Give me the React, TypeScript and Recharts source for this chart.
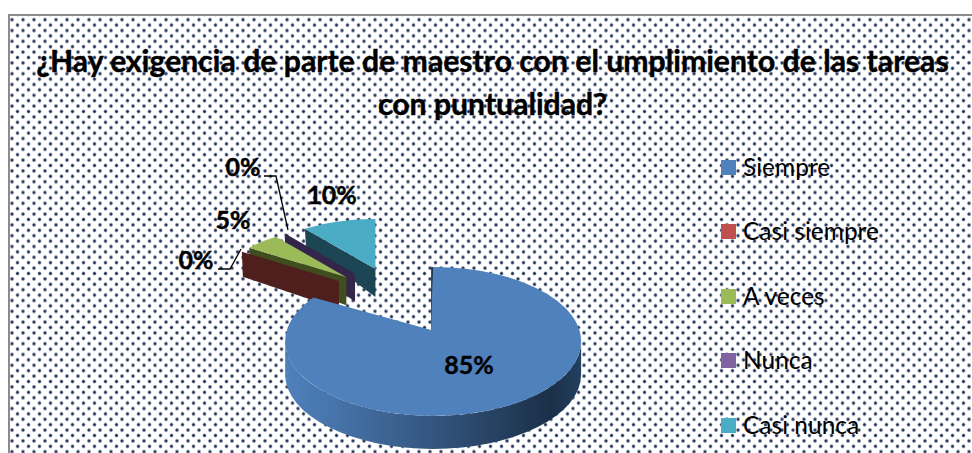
import { PieChart, Pie, Legend } from 'recharts'

const title = ['¿Hay exigencia de parte de maestro con el umplimiento de las tareas', 'con puntualidad?']
const categories = ['Siempre', 'Casi siempre', 'A veces', 'Nunca', 'Casi nunca']
const percents = [85, 0, 5, 0, 10]
const colors = ['#4f81bd', '#c0504d', '#9bbb59', '#8064a2', '#4bacc6']
const wallColors = ['#2c4a6e', '#4f1f1d', '#3f4d1f', '#33264a', '#1c4653']

// drawn back to front, so the big slice lands on top; legend keeps the original order
const rows = categories
  .map((name, i) => ({ name, value: percents[i], fill: colors[i], wall: wallColors[i] }))
  .reverse()

const labelSpots: Record<string, { x: number; y: number; leader?: string }> = {
  Siempre: { x: 469, y: 368 },
  'Casi siempre': { x: 196, y: 263, leader: '218,269 230,269 241,249' },
  'A veces': { x: 233, y: 223 },
  Nunca: { x: 243, y: 170, leader: '264,176 276,176 288,230' },
  'Casi nunca': { x: 332, y: 198 },
}

const rad = (deg: number) => (deg * Math.PI) / 180

function Slice3D(props: any) {
  const { cx, cy, startAngle: s, endAngle: e, outerRadius: r, fill, payload } = props
  const mid = rad((s + e) / 2)
  const ax = cx + 73 * Math.cos(mid)
  const ay = cy - 33 * Math.sin(mid)
  const big = e - s > 180
  const rx = big ? r * 1.233 : r
  const ry = big ? rx / 2 + 0.5 : r * 0.417
  const hx = big ? ax + 2 : ax
  const hy = big ? ay + 11.5 : ay
  const pt = (deg: number) => ({ x: hx + rx * Math.cos(rad(deg)), y: hy - ry * Math.sin(rad(deg)) })
  const p0 = pt(s)
  const p1 = pt(e)
  const face = `M${ax},${ay} L${p0.x},${p0.y} A${rx},${ry} 0 ${big ? 1 : 0} 0 ${p1.x},${p1.y} Z`

  if (big) {
    const d = 33
    const rim = `M${hx - rx},${hy} A${rx},${ry} 0 0 0 ${hx + rx},${hy} L${hx + rx},${hy + d} A${rx},${ry} 0 0 1 ${hx - rx},${hy + d} Z`
    return (
      <g>
        <defs>
          <linearGradient id="rimShade" x1="0" y1="0" x2="1" y2="0">
            <stop offset="0%" stopColor="#4f81bd" />
            <stop offset="30%" stopColor="#3f6899" />
            <stop offset="62%" stopColor="#2c4a6e" />
            <stop offset="90%" stopColor="#1b2f48" />
            <stop offset="100%" stopColor="#22405f" />
          </linearGradient>
        </defs>
        <path d={rim} fill="url(#rimShade)" />
        <path d={`M${p1.x - 2},${p1.y} L${ax},${ay} L${ax + 1},${ay + 3} L${p1.x},${p1.y} Z`} fill="#1d3350" />
        <path d={face} fill={fill} />
      </g>
    )
  }

  const depthAt = (y: number) => Math.min(28, (y - 180) * 0.35)
  const wall = `M${p1.x},${p1.y} L${ax},${ay} L${ax},${ay + depthAt(ay)} L${p1.x + 1},${p1.y + depthAt(p1.y)} Z`
  return (
    <g>
      <path d={wall} fill={payload.wall} />
      {e > s && <path d={face} fill={fill} />}
    </g>
  )
}

function renderLabel(props: any) {
  const spot = labelSpots[props.name]
  return (
    <g>
      {spot.leader && <polyline points={spot.leader} fill="none" stroke="#000" strokeWidth={1.3} />}
      <text x={spot.x} y={spot.y} textAnchor="middle" dominantBaseline="middle" fontFamily="Lato" fontWeight={700} fontSize={25} fill="#000" stroke="#000" strokeWidth={0.4}>
        {props.value}%
      </text>
    </g>
  )
}

function LegendList() {
  return (
    <div>
      {categories.map((name, i) => (
        <div key={name} style={{ height: 64.5, display: 'flex', alignItems: 'center' }}>
          <span style={{ width: 15, height: 15, background: colors[i], marginRight: 7, flex: 'none' }} />
          <span style={{ fontFamily: 'Lato', fontSize: 24.5, color: '#000', whiteSpace: 'nowrap', position: 'relative', top: -1 }}>{name}</span>
        </div>
      ))}
    </div>
  )
}

export default function App() {
  return (
    <div style={{ position: 'absolute', left: 0, top: 0, width: 972, height: 453, background: '#fff', overflow: 'hidden' }}>
      <svg width={972} height={453} style={{ position: 'absolute', left: 0, top: 0 }}>
        <defs>
          <radialGradient id="dotShade">
            <stop offset="0%" stopColor="#1f2f50" />
            <stop offset="40%" stopColor="#2f3f60" />
            <stop offset="100%" stopColor="#5a6a88" stopOpacity={0} />
          </radialGradient>
          <pattern id="dots" x={12} y={19.7} width={11} height={10.8} patternUnits="userSpaceOnUse">
            <circle cx={0} cy={0} r={2.4} fill="url(#dotShade)" />
            <circle cx={11} cy={0} r={2.4} fill="url(#dotShade)" />
            <circle cx={0} cy={10.8} r={2.4} fill="url(#dotShade)" />
            <circle cx={11} cy={10.8} r={2.4} fill="url(#dotShade)" />
            <circle cx={5.5} cy={5.4} r={2.4} fill="url(#dotShade)" />
          </pattern>
        </defs>
        <rect x={9} y={15} width={963} height={438} fill="url(#dots)" />
        <path d="M9,453 V15 H972" fill="none" stroke="#8c8c8c" strokeWidth={2} />
      </svg>
      <div style={{ position: 'absolute', left: 0, top: 39, width: 985, textAlign: 'center', fontFamily: 'Lato', fontWeight: 700, fontSize: 30.2, lineHeight: '43px', color: '#000', WebkitTextStroke: '0.4px #000' }}>
        {title.map(line => (
          <div key={line} style={{ whiteSpace: 'nowrap' }}>{line}</div>
        ))}
      </div>
      <div style={{ position: 'absolute', left: 0, top: 0 }}>
        <PieChart width={972} height={453} margin={{ top: 0, right: 0, bottom: 0, left: 0 }}>
          <Pie
            data={rows}
            dataKey="value"
            nameKey="name"
            cx={398}
            cy={300.5}
            outerRadius={120}
            startAngle={90}
            endAngle={450}
            stroke="none"
            shape={Slice3D}
            label={renderLabel}
            labelLine={false}
            isAnimationActive={false}
          />
          <Legend
            content={() => <LegendList />}
            layout="vertical"
            wrapperStyle={{ left: 721, top: 135, width: 240, bottom: 'auto', right: 'auto' }}
          />
        </PieChart>
      </div>
    </div>
  )
}
